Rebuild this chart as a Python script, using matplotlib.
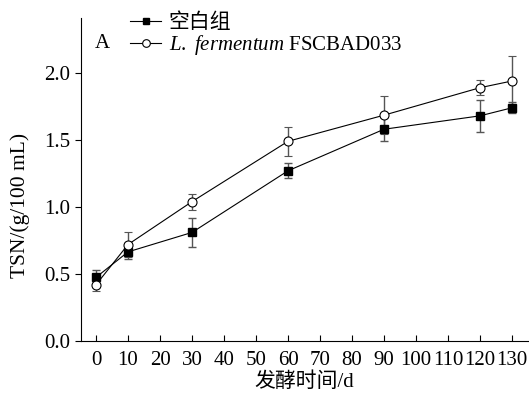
import matplotlib
matplotlib.use("Agg")
import matplotlib.pyplot as plt
from matplotlib.lines import Line2D

plt.rcParams['font.family'] = ['Liberation Serif', 'Noto Sans CJK SC']
plt.rcParams['mathtext.fontset'] = 'custom'
plt.rcParams['mathtext.it'] = 'Liberation Serif:italic'
plt.rcParams['mathtext.rm'] = 'Liberation Serif'

days = [0, 10, 30, 60, 90, 120, 130]
blank = [0.475, 0.665, 0.81, 1.27, 1.58, 1.68, 1.74]
blank_err = [0.055, 0.05, 0.11, 0.055, 0.09, 0.12, 0.04]
lf = [0.42, 0.72, 1.04, 1.49, 1.685, 1.89, 1.94]
lf_err = [0.05, 0.09, 0.06, 0.11, 0.14, 0.055, 0.19]
labels = ['空白组', '$\\mathit{L.\\ fermentum}$ FSCBAD033']
xticks = list(range(0, 131, 10))
yticks = [0.0, 0.5, 1.0, 1.5, 2.0]

fig = plt.figure(figsize=(5.29, 3.98), dpi=100)
ax = fig.add_axes([81/529, 1-341/398, 447/529, 323/398])

ax.errorbar(days, blank, yerr=blank_err, color='black', lw=0.8, marker='s', ms=6,
            mfc='black', mec='black', ecolor='#555555', elinewidth=1, capsize=3, capthick=1, zorder=3)
ax.errorbar(days, lf, yerr=lf_err, color='black', lw=0.8, marker='o', ms=6.5,
            mfc='white', mec='black', mew=0.8, ecolor='#555555', elinewidth=1, capsize=3, capthick=1, zorder=3)

ax.set_xlim(-4.7, 135)
ax.set_ylim(0, 2.41)
ax.set_xticks(xticks)
ax.set_yticks(yticks)
ax.set_yticklabels([f"{v:.1f}" for v in yticks])
ax.spines['top'].set_visible(False)
ax.spines['right'].set_visible(False)
ax.tick_params(axis='x', direction='in', length=4, labelsize=15, pad=7)
ax.tick_params(axis='y', direction='out', length=4, labelsize=15)
ax.set_xlabel('发酵时间/d', fontsize=15, labelpad=2)
ax.set_ylabel('TSN/(g/100 mL)', fontsize=15.5, labelpad=3)
ax.yaxis.set_label_coords(-0.115, 0.42)

ax.text(0.03, 0.92, 'A', transform=ax.transAxes, fontsize=15, ha='left', va='center')

handles = [Line2D([], [], color='black', lw=0.8, marker='s', ms=5, mfc='black', mec='black'),
           Line2D([], [], color='black', lw=0.8, marker='o', ms=5.5, mfc='white', mec='black', mew=0.8)]
ax.legend(handles, labels, loc='upper left', bbox_to_anchor=(0.091, 1.04), frameon=False, fontsize=15,
          handlelength=1.5, handletextpad=0.35, labelspacing=0.0, borderaxespad=0)

fig.savefig('out.png', dpi=100)
